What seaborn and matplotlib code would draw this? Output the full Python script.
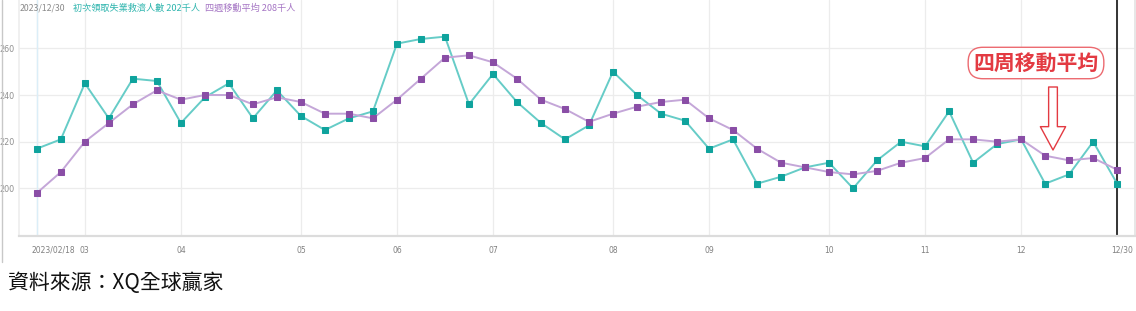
import numpy as np
import pandas as pd
import matplotlib
matplotlib.use("Agg")
import matplotlib.pyplot as plt
import matplotlib.transforms as mtransforms
import seaborn as sns

# ---------------- data ----------------
dates = pd.date_range("2023-02-18", "2023-12-30", freq="7D")
claims = [217, 221, 245, 230, 247, 246, 228, 239, 245, 230, 242, 231, 225, 230, 233,
          262, 264, 265, 236, 249, 237, 228, 221, 227, 250, 240, 232, 229, 217, 221,
          202, 205, 209, 211, 200, 212, 220, 218, 233, 211, 219, 221, 202, 206, 220, 202]
avg4w = [198, 207, 220, 228, 236, 242, 238, 240, 240, 236, 239, 237, 232, 232, 230,
         238, 247, 256, 257, 254, 247, 238, 234, 228.5, 232, 235, 237, 238, 230, 225,
         217, 211, 209, 207, 206, 207.5, 211, 213, 221, 221, 220, 221, 214, 212, 213, 208]
tick_dates = pd.to_datetime(["2023-02-18", "2023-03-04", "2023-04-01", "2023-05-06",
                             "2023-06-03", "2023-07-01", "2023-08-05", "2023-09-02",
                             "2023-10-07", "2023-11-04", "2023-12-02", "2023-12-30"])
tick_labels = ["2023/02/18", "03", "04", "05", "06", "07", "08", "09", "10", "11", "12", "12/30"]
y_ticks = [200, 220, 240, 260]
header_date = "2023/12/30"
header_claims = "初次領取失業救濟人數 202千人"
header_avg = "四週移動平均 208千人"
note_text = "四周移動平均"
source_text = "資料來源：XQ全球贏家"

df = pd.DataFrame({"date": dates, "claims": claims, "avg": avg4w})

# ---------------- style ----------------
sns.set_theme(style="white")
plt.rcParams["font.family"] = ["Noto Sans CJK TC", "DejaVu Sans"]

W, H = 1136, 311
fig = plt.figure(figsize=(W / 100, H / 100), dpi=100)
ax = fig.add_axes([19 / W, 1 - 236 / H, (1135 - 19) / W, 236 / H])

teal_line, teal_mark = "#66ccc7", "#0fa39d"
purp_line, purp_mark = "#c4a6d8", "#8a4ea6"

sns.lineplot(data=df, x="date", y="claims", ax=ax, color=teal_line, linewidth=1.4,
             marker="s", markersize=5, markerfacecolor=teal_mark,
             markeredgecolor=teal_mark, zorder=3)
sns.lineplot(data=df, x="date", y="avg", ax=ax, color=purp_line, linewidth=1.4,
             marker="s", markersize=5, markerfacecolor=purp_mark,
             markeredgecolor=purp_mark, zorder=4)

ax.set_xlim(dates[0] - pd.Timedelta(days=5.2), dates[-1] + pd.Timedelta(days=5.2))
ax.set_ylim(179.6, 280.7)
ax.set_xlabel("")
ax.set_ylabel("")

ax.set_yticks(y_ticks)
ax.set_yticklabels([str(v) for v in y_ticks])
ax.set_xticks(tick_dates)
ax.set_xticklabels(tick_labels)
ax.tick_params(axis="x", length=0, pad=7, labelsize=5.5, labelcolor="#808080")
ax.tick_params(axis="y", length=0, pad=3, labelsize=5.8, labelcolor="#909090")
for lab in ax.get_xticklabels() + ax.get_yticklabels():
    lab.set_fontfamily("DejaVu Sans")

first = ax.get_xticklabels()[0]
first.set_ha("left")
first.set_transform(first.get_transform() + mtransforms.ScaledTranslation(-5 / 100, 0, fig.dpi_scale_trans))
last = ax.get_xticklabels()[-1]
last.set_transform(last.get_transform() + mtransforms.ScaledTranslation(5 / 100, 0, fig.dpi_scale_trans))

ax.grid(True, color="#ececec", linewidth=0.9)
ax.set_axisbelow(True)
ax.spines["top"].set_visible(False)
ax.spines["bottom"].set_color("#dcdcdc")
ax.spines["bottom"].set_linewidth(1.6)
ax.spines["left"].set_color("#eeeeee")
ax.spines["right"].set_color("#e4e4e4")

ax.axvline(dates[0], color="#dbeef8", linewidth=1.0, zorder=1)
ax.axvline(dates[-1], color="#333333", linewidth=1.4, zorder=2)

# header texts
fig.text(20 / W, 1 - 8 / H, header_date, fontsize=6.3, color="#8a8a8a", va="center", ha="left")
fig.text(73 / W, 1 - 8 / H, header_claims, fontsize=6.6, color="#2fb5ae", va="center", ha="left")
fig.text(205 / W, 1 - 8 / H, header_avg, fontsize=6.6, color="#a575c4", va="center", ha="left")

# annotation box + hollow arrow
fig.text(1036 / W, 1 - 63 / H, note_text, fontsize=15, fontweight="bold", color="#e33a42",
         ha="center", va="center",
         bbox=dict(boxstyle="round,pad=0.25,rounding_size=0.7", fc="white", ec="#ec6a70", lw=1.0))
ax.annotate("", xy=(1053, H - 150), xycoords="figure pixels",
            xytext=(1053, H - 87), textcoords="figure pixels",
            arrowprops=dict(arrowstyle="simple,head_length=1.2,head_width=1.3,tail_width=0.45",
                            fc="white", ec="#e33a42", lw=1.0, mutation_scale=14,
                            shrinkA=0, shrinkB=0))

# left border line of screenshot
fig.add_artist(plt.Line2D([2 / W, 2 / W], [1 - 262 / H, 1.0], color="#c8c8c8", linewidth=1.0))

# source
fig.text(8 / W, 1 - 283 / H, source_text, fontsize=15, fontweight="medium", color="#111111",
         va="center", ha="left")

fig.savefig("out.png", dpi=100)
